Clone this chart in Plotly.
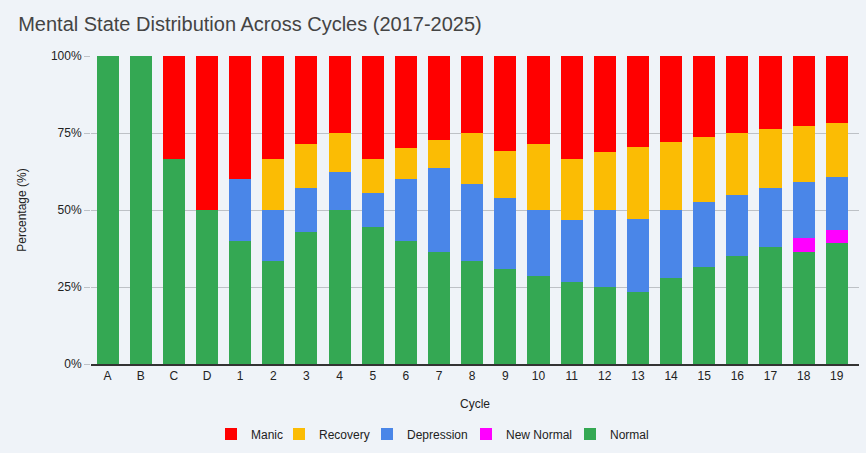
import plotly.graph_objects as go

cycles = ["A", "B", "C", "D", "1", "2", "3", "4", "5", "6", "7", "8", "9", "10",
          "11", "12", "13", "14", "15", "16", "17", "18", "19"]

normal = [100, 100, 66.7, 50, 40, 33.3, 42.9, 50, 44.4, 40, 36.4, 33.3, 30.8, 28.6,
          26.7, 25, 23.5, 27.8, 31.6, 35, 38.1, 36.4, 39.1]
new_normal = [0, 0, 0, 0, 0, 0, 0, 0, 0, 0, 0, 0, 0, 0,
              0, 0, 0, 0, 0, 0, 0, 4.5, 4.3]
depression = [0, 0, 0, 0, 20, 16.7, 14.3, 12.5, 11.1, 20, 27.3, 25, 23.1, 21.4,
              20, 25, 23.5, 22.2, 21.1, 20, 19.0, 18.2, 17.4]
recovery = [0, 0, 0, 0, 0, 16.7, 14.3, 12.5, 11.1, 10, 9.1, 16.7, 15.4, 21.4,
            20, 18.75, 23.5, 22.2, 21.1, 20, 19.0, 18.2, 17.4]
manic = [0, 0, 33.3, 50, 40, 33.3, 28.6, 25, 33.3, 30, 27.3, 25, 30.8, 28.6,
         33.3, 31.25, 29.4, 27.8, 26.3, 25, 23.8, 22.7, 21.7]

# (name, values, colour, legend id, legend left edge in px)
series = [
    ("Normal", normal, "#34a853", "legend5", 588),
    ("New Normal", new_normal, "#ff00ff", "legend4", 484),
    ("Depression", depression, "#4a86e8", "legend3", 385),
    ("Recovery", recovery, "#fbbc04", "legend2", 297),
    ("Manic", manic, "#ff0000", "legend", 229),
]

W, H = 866, 453
font_family = "Liberation Sans, Arial, sans-serif"
bg = "#eff3f8"

fig = go.Figure()
legends = {}
for name, vals, color, leg, px in series:
    fig.add_trace(go.Bar(
        x=cycles, y=vals, name=name, legend=leg,
        marker=dict(color=color, line=dict(width=0)),
    ))
    legends[leg] = dict(orientation="h", xref="container", yref="container",
                        x=(px - 18) / W, xanchor="left",
                        y=1 - 434 / H, yanchor="middle",
                        bgcolor="rgba(0,0,0,0)",
                        font=dict(size=12, color="#222222"), itemwidth=30)

fig.update_layout(
    barmode="stack",
    barnorm="percent",
    bargap=0.335,
    width=W, height=H,
    paper_bgcolor=bg, plot_bgcolor=bg,
    margin=dict(l=91, r=7, t=56, b=89),
    font=dict(family=font_family, size=12, color="#222222"),
    title=dict(text="Mental State Distribution Across Cycles (2017-2025)",
               x=0.021, xanchor="left", y=0.947, yanchor="middle",
               font=dict(size=20, color="#444444", family=font_family)),
    xaxis=dict(title=dict(text="Cycle", standoff=17, font=dict(size=12)),
               automargin=False, range=[-0.5, len(cycles) - 0.33],
               showgrid=False, showline=True, linecolor="#333333", linewidth=1.5,
               ticks="", tickfont=dict(size=12)),
    yaxis=dict(title=dict(text="Percentage (%)", standoff=21, font=dict(size=12)),
               automargin=False,
               range=[0, 100], tickvals=[0, 25, 50, 75, 100],
               ticktext=["0%", "25%", "50%", "75%", "100%"],
               showgrid=True, gridcolor="#bdc1c6", gridwidth=1,
               zeroline=False, ticks="outside", ticklen=6, tickcolor="#bdc1c6",
               tickfont=dict(size=12)),
    showlegend=True,
    **legends,
)

fig.write_html("out.html", config={"displayModeBar": False},
               post_script="document.body.style.margin='0';document.body.style.background='%s';" % bg)
